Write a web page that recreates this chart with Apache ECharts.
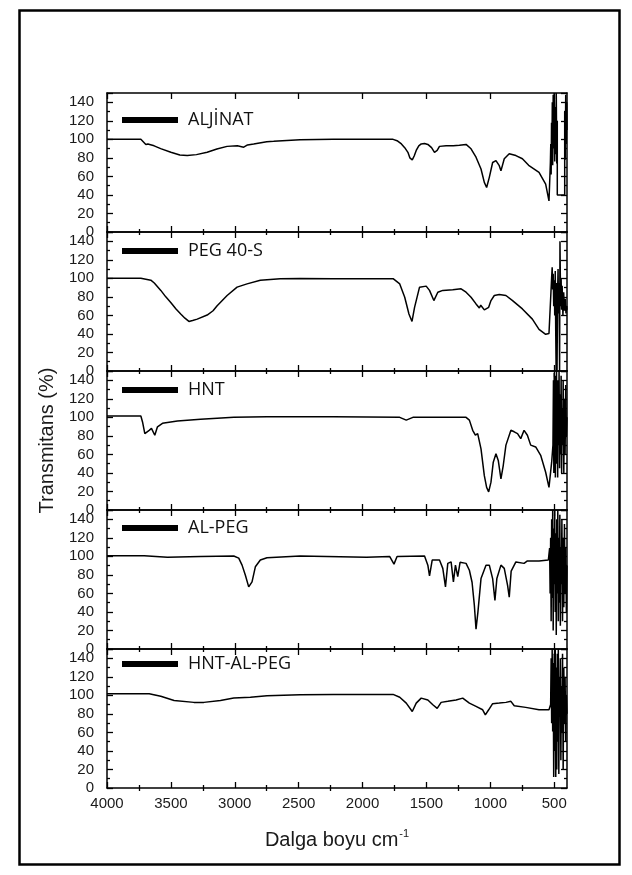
<!DOCTYPE html>
<html>
<head>
<meta charset="utf-8">
<script src="https://cdn.jsdelivr.net/npm/echarts@6/dist/echarts.min.js"></script>
<style>
  html, body { margin: 0; background: #fff; }
  #chart { width: 632px; height: 875px; }
</style>
</head>
<body>
<div id="chart"></div>
<script>
// FTIR spectra, wavenumber (cm-1) vs transmittance (%)
var names = ['ALJİNAT', 'PEG 40-S', 'HNT', 'AL-PEG', 'HNT-AL-PEG'];

var xMajor = [500, 1000, 1500, 2000, 2500, 3000, 3500, 4000];
var xMinor = [750, 1250, 1750, 2250, 2750, 3250, 3750];

var aljinatWn = [4000, 3735, 3722, 3696, 3680, 3631, 3580, 3500, 3430, 3372, 3300, 3216, 3140, 3060, 2980, 2930, 2900, 2852, 2750, 2696, 2489, 2229, 1900, 1761, 1730, 1696, 1670, 1645, 1630, 1611, 1596, 1580, 1560, 1541, 1515, 1489, 1460, 1437, 1416, 1398, 1346, 1290, 1242, 1190, 1151, 1112, 1073, 1047, 1029, 1008, 982, 956, 930, 917, 891, 852, 800, 749, 700, 619, 567, 541,
  530, 527, 524, 521, 518, 515, 512, 508, 504, 500, 496, 492, 488, 484, 480, 476, 476, 418, 418, 414, 410, 406, 402, 400];
var aljinatT = [100, 100, 98, 94.5, 95, 93, 90, 86, 83, 82.5, 83.5, 86, 89.5, 92.4, 93, 91.5, 94, 95, 97.5, 97.8, 99.6, 100, 100, 100, 98.5, 95, 91, 86, 80, 77.8, 82, 88, 93, 95, 95.5, 94.5, 91, 86, 88, 92.4, 93, 93, 93.5, 94.5, 89.8, 80.7, 68, 53.5, 48, 59, 75, 77, 71.6, 66, 79, 84.4, 82.5, 79, 72, 64.4, 51.6, 33.5,
  75, 95, 62, 118, 80, 140, 72, 148, 90, 150, 76, 135, 84, 150, 74, 120, 40, 40, 130, 78, 148, 95, 140, 110];

var pegWn = [4000, 3735, 3657, 3630, 3579, 3540, 3501, 3460, 3423, 3390, 3359, 3330, 3294, 3216, 3170, 3138, 3060, 2982, 2904, 2800, 2644, 2489, 2229, 1900, 1761, 1709, 1670, 1637, 1613, 1593, 1554, 1502, 1476, 1442, 1411, 1372, 1294, 1229, 1190, 1151, 1112, 1086, 1075, 1060, 1047, 1034, 1013, 995, 969, 930, 878, 826, 749, 671, 619, 567, 541, 520,
  516, 512, 508, 504, 500, 496, 492, 488, 485, 482, 478, 474, 470, 466, 462, 458, 455, 450, 446, 442, 438, 432, 426, 420, 414, 408, 402, 400];
var pegT = [100, 100, 98, 95, 87, 80, 74, 67, 61.5, 57, 53.5, 54.5, 56, 60.4, 65, 70.5, 81.5, 90.5, 94, 98, 99.6, 99.8, 99.6, 99.6, 99.6, 94, 79.6, 61.5, 53.5, 68.7, 90.5, 91.6, 87, 76, 85, 87, 87.6, 88.7, 85, 79.6, 72.4, 68, 71, 72.4, 66, 64.4, 68.7, 76, 81.5, 82.5, 81.5, 76, 67, 56, 45, 39.6, 40.4, 101.5,
  112, 88, 105, 70, 98, 60, 108, 40, 0, 95, 0, 80, 110, 62, 95, 0, 140, 70, 100, 66, 92, 60, 85, 65, 78, 62, 70, 66];

var hntWn = [4000, 3735, 3722, 3704, 3670, 3652, 3626, 3605, 3566, 3449, 3268, 3008, 2748, 2229, 1709, 1658, 1606, 1190, 1164, 1138, 1117, 1099, 1073, 1047, 1029, 1013, 995, 977, 956, 938, 917, 899, 878, 839, 813, 787, 762, 736, 710, 684, 645, 606, 567, 541, 520, 510,
  506, 503, 500, 497, 494, 491, 488, 485, 482, 479, 476, 473, 470, 466, 462, 458, 454, 450, 446, 442, 438, 434, 430, 425, 420, 415, 410, 405, 400];
var hntT = [101.5, 101.5, 95, 82.5, 86, 88, 80.7, 89.8, 93.5, 96, 97.8, 100, 100.7, 100.7, 100, 97, 100, 100, 97, 86, 80.7, 82.5, 66, 37, 24.4, 19.6, 30, 51.6, 60.7, 53.5, 33.5, 48, 70, 86, 84.4, 82.5, 77, 86, 80.7, 70, 68, 59, 40.7, 24.4, 51.6, 70,
  140, 40, 148, 60, 120, 35, 145, 80, 150, 50, 130, 35, 140, 70, 150, 45, 125, 60, 145, 40, 110, 70, 140, 40, 120, 60, 135, 80, 100];

var alPegWn = [4000, 3709, 3527, 3268, 3008, 2969, 2943, 2917, 2891, 2865, 2839, 2800, 2748, 2489, 1969, 1787, 1754, 1730, 1515, 1489, 1476, 1455, 1398, 1372, 1351, 1333, 1307, 1289, 1273, 1255, 1237, 1190, 1164, 1143, 1125, 1112, 1097, 1073, 1034, 1008, 982, 964, 949, 917, 891, 865, 852, 837, 800, 736, 710, 619, 546, 536,
  532, 528, 524, 520, 516, 512, 508, 504, 500, 496, 492, 488, 484, 480, 476, 472, 468, 464, 460, 456, 452, 448, 444, 440, 435, 430, 425, 420, 415, 410, 405, 400];
var alPegT = [100.7, 100.7, 99, 99.8, 100.4, 98, 90.5, 79.6, 67, 72.4, 88.7, 96, 98.5, 100.4, 99, 99.8, 91.6, 99.8, 100.4, 90.5, 79, 96, 96, 87, 67, 92.4, 94, 72.4, 90.5, 78, 93.5, 92.4, 85, 72, 47, 21.5, 40, 76, 90.5, 90.5, 76, 52.4, 76, 90.5, 87, 68.7, 56, 84, 94, 92.4, 95, 95, 96, 109,
  60, 120, 30, 140, 55, 150, 20, 130, 70, 150, 40, 125, 15, 140, 60, 150, 30, 120, 50, 145, 25, 110, 70, 140, 30, 120, 45, 135, 60, 110, 40, 90];

var hntAlPegWn = [4000, 3670, 3579, 3475, 3320, 3242, 3112, 3008, 2878, 2748, 2489, 2229, 1761, 1709, 1658, 1611, 1580, 1541, 1489, 1450, 1416, 1385, 1333, 1268, 1216, 1164, 1112, 1060, 1039, 1013, 982, 930, 878, 839, 813, 723, 619, 541, 528,
  524, 520, 516, 512, 508, 504, 500, 496, 492, 488, 484, 480, 476, 472, 468, 464, 460, 456, 452, 448, 444, 440, 435, 430, 425, 420, 415, 410, 405, 400];
var hntAlPegT = [101.8, 101.8, 99, 94.5, 92.4, 92.4, 94.5, 97, 98, 99.6, 100.7, 101, 101, 98, 91.6, 82.5, 91.6, 97, 95, 89.8, 86, 92.4, 93.5, 95, 97, 91.6, 88, 84.4, 79, 84.4, 91, 91.6, 92.4, 93.5, 88.7, 87, 84.4, 84.4, 90,
  140, 70, 150, 61, 135, 12, 145, 40, 150, 12, 130, 20, 145, 50, 150, 15, 120, 80, 140, 30, 110, 60, 145, 20, 130, 70, 120, 50, 100, 80];

var wnSets = [aljinatWn, pegWn, hntWn, alPegWn, hntAlPegWn];
var tSets = [aljinatT, pegT, hntT, alPegT, hntAlPegT];

var gridTops = [93, 232, 371, 510, 649];
var legendMid = [120, 251, 390, 528, 664];
var numFont = 'Liberation Sans, Arial, sans-serif';

var grids = [], xAxes = [], yAxes = [], series = [], legends = [];

for (var i = 0; i < 5; i++) {
  grids.push({ left: 107, right: 65, top: gridTops[i], height: 139 });

  var last = i === 4;
  ['bottom', 'top'].forEach(function(pos) {
    xAxes.push({
      gridIndex: i, type: 'value', inverse: true, min: 400, max: 4000, position: pos,
      axisLine: { show: true, onZero: false, lineStyle: { color: '#000', width: 1.5 } },
      axisTick: { inside: true, length: 6, customValues: xMajor, lineStyle: { color: '#000', width: 1.3 } },
      axisLabel: { show: last && pos === 'bottom', customValues: xMajor, margin: 8,
        fontFamily: numFont, fontSize: 15, color: '#1a1a1a',
        formatter: function(v) { return String(v); } },
      splitLine: { show: false }
    });
    xAxes.push({
      gridIndex: i, type: 'value', inverse: true, min: 400, max: 4000, position: pos,
      axisLine: { show: false },
      axisTick: { inside: true, length: 3, customValues: xMinor, lineStyle: { color: '#000', width: 1.3 } },
      axisLabel: { show: false },
      splitLine: { show: false }
    });
  });

  if (last) {
    xAxes[i * 4].name = '{a|Dalga boyu cm}{b|-1}';
    xAxes[i * 4].nameLocation = 'middle';
    xAxes[i * 4].nameGap = 40;
    xAxes[i * 4].nameTextStyle = {
      rich: {
        a: { fontFamily: numFont, fontSize: 20, color: '#1a1a1a' },
        b: { fontFamily: numFont, fontSize: 11, color: '#1a1a1a', padding: [0, 0, 14, 1] }
      }
    };
  }

  ['left', 'right'].forEach(function(pos) {
    yAxes.push({
      gridIndex: i, type: 'value', min: 0, max: 150, interval: 20, position: pos,
      axisLine: { show: true, onZero: false, lineStyle: { color: '#000', width: 1.5 } },
      axisTick: { inside: true, length: 6, lineStyle: { color: '#000', width: 1.3 } },
      minorTick: { show: true, splitNumber: 2, length: 3, lineStyle: { color: '#000', width: 1.3 } },
      axisLabel: { show: pos === 'left', margin: 13, showMaxLabel: false,
        fontFamily: numFont, fontSize: 15, color: '#1a1a1a',
        formatter: function(v) { return v > 140 ? '' : String(v); } },
      splitLine: { show: false }, minorSplitLine: { show: false }
    });
  });

  var pts = [];
  for (var k = 0; k < wnSets[i].length; k++) pts.push([wnSets[i][k], tSets[i][k]]);
  series.push({
    name: names[i], type: 'line', xAxisIndex: i * 4, yAxisIndex: i * 2,
    data: pts, symbol: 'none', lineStyle: { color: '#000', width: 1.5 },
    itemStyle: { color: '#000' }
  });

  legends.push({
    data: [names[i]], left: 122, top: legendMid[i] - 10, padding: 0,
    icon: 'rect', itemWidth: 56, itemHeight: 6, selectedMode: false,
    textStyle: { fontFamily: 'Open Sans', fontSize: 18, lineHeight: 20, color: '#111', padding: [0, 0, 0, 5] }
  });
}

yAxes[4].name = 'Transmitans (%)';
yAxes[4].nameLocation = 'middle';
yAxes[4].nameGap = 50;
yAxes[4].nameTextStyle = { fontFamily: numFont, fontSize: 20, color: '#1a1a1a' };

var myChart = echarts.init(document.getElementById('chart'));
myChart.setOption({
  animation: false,
  backgroundColor: '#fff',
  graphic: [{
    type: 'rect', left: 17, top: 8,
    shape: { width: 600, height: 854 },
    style: { fill: 'none', stroke: '#000', lineWidth: 2.5 }
  }],
  grid: grids,
  xAxis: xAxes,
  yAxis: yAxes,
  legend: legends,
  series: series
});
</script>
</body>
</html>
